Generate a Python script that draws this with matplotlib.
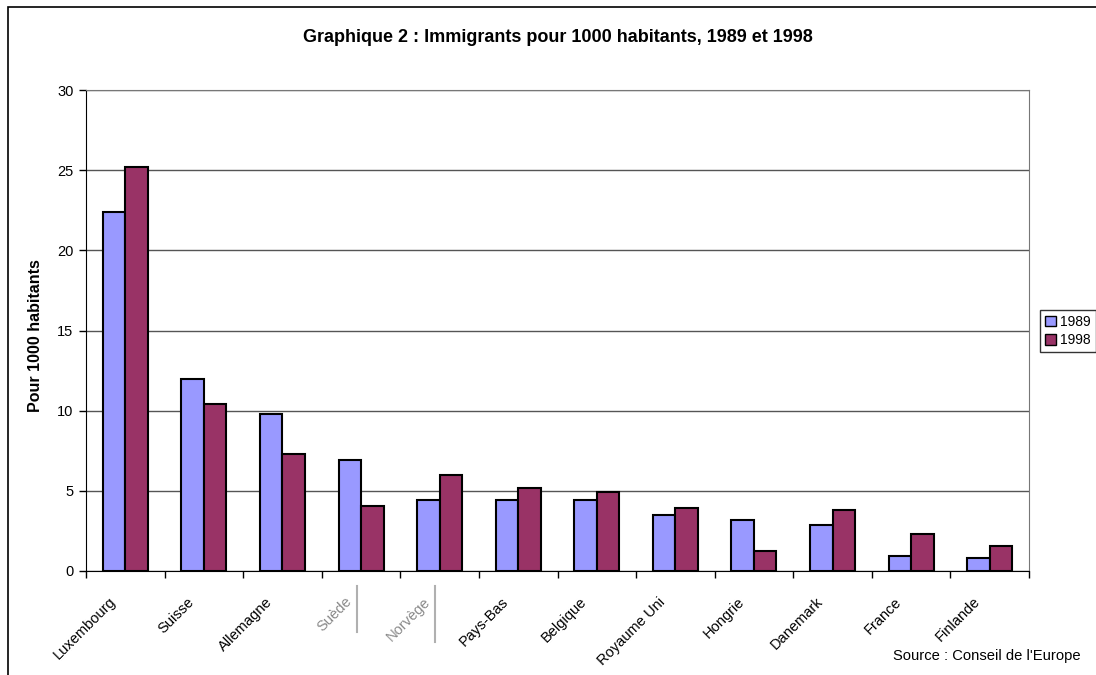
import numpy as np
import matplotlib.pyplot as plt
from matplotlib.patches import Rectangle
from matplotlib.lines import Line2D

plt.rcParams['font.family'] = ['Liberation Sans', 'DejaVu Sans']

# Immigrants pour 1000 habitants
pays = ['Luxembourg', 'Suisse', 'Allemagne', 'Suède', 'Norvège', 'Pays-Bas',
        'Belgique', 'Royaume Uni', 'Hongrie', 'Danemark', 'France', 'Finlande']
val_1989 = [22.4, 12.0, 9.8, 6.9, 4.4, 4.4, 4.4, 3.5, 3.2, 2.85, 0.92, 0.81]
val_1998 = [25.2, 10.4, 7.3, 4.05, 6.0, 5.2, 4.9, 3.92, 1.25, 3.8, 2.32, 1.57]
annees = ['1989', '1998']

col_89 = '#9999FF'
col_98 = '#993366'

fig = plt.figure(figsize=(10.96, 6.75), dpi=100)
ax = fig.add_axes([86 / 1096, 104 / 675, 943 / 1096, 481 / 675])

x = np.arange(len(pays))
w = 0.286
ax.bar(x - w / 2, val_1989, w, color=col_89, edgecolor='black', linewidth=1.5, zorder=3)
ax.bar(x + w / 2, val_1998, w, color=col_98, edgecolor='black', linewidth=1.5, zorder=3)

ax.set_xlim(-0.5, len(pays) - 0.5)
ax.set_ylim(0, 30)
ax.set_yticks(np.arange(0, 31, 5))
ax.yaxis.grid(True, color='#555555', linewidth=1, zorder=0)

# ticks between the categories, labels slightly left of each category centre
lab_shift = 0.215
ax.set_xticks(np.arange(len(pays) + 1) - 0.5)
ax.set_xticklabels([])
ax.set_xticks(x - lab_shift, minor=True)
ax.set_xticklabels(pays, minor=True, rotation=45, ha='right', va='top',
                   rotation_mode='anchor', fontsize=10.5)
ax.tick_params(axis='x', which='minor', length=0, pad=17)
ax.tick_params(axis='x', which='major', length=5, width=1, direction='out')
ax.tick_params(axis='y', length=5, width=1, direction='out', labelsize=10.5, pad=4)

for lab in ax.get_xticklabels(minor=True):
    if lab.get_text() in ('Suède', 'Norvège'):
        lab.set_color('#8a8a8a')

# thin grey marks next to two of the labels
trans = ax.get_xaxis_transform()
for xi, y1 in [(3 - 0.055, -0.127), (4 - 0.055, -0.148)]:
    ax.add_line(Line2D([xi, xi], [-0.031, y1], transform=trans, color='#b0b0b0',
                       linewidth=1.5, clip_on=False))

for side in ['top', 'right']:
    ax.spines[side].set_color('#777777')
ax.spines['left'].set_color('black')
ax.spines['bottom'].set_color('black')

ax.set_ylabel('Pour 1000 habitants', fontsize=11.5, fontweight='bold')
ax.yaxis.set_label_coords(-0.046, 0.489)

fig.text(558 / 1096, 1 - 38 / 675, 'Graphique 2 : Immigrants pour 1000 habitants, 1989 et 1998',
         ha='center', va='center', fontsize=13, fontweight='bold')
fig.text(1081 / 1096, 1 - 656 / 675, "Source : Conseil de l'Europe",
         ha='right', va='center', fontsize=10.6)

handles = [Rectangle((0, 0), 1, 1, facecolor=c, edgecolor='black', linewidth=1)
           for c in (col_89, col_98)]
leg = fig.legend(handles, annees, loc='center left', bbox_to_anchor=(1040 / 1096, 1 - 331 / 675),
                 fontsize=10, frameon=True, fancybox=False, handlelength=0.8,
                 handleheight=0.8, handletextpad=0.3, borderpad=0.35, labelspacing=0.3,
                 borderaxespad=0)
leg.get_frame().set_edgecolor('black')
leg.get_frame().set_linewidth(1)

# outer chart border (only left and top edges fall inside the image)
fig.patches.append(Rectangle((8 / 1096, -0.1), 1.2, 1 - 7 / 675 + 0.1, transform=fig.transFigure,
                             fill=False, edgecolor='black', linewidth=1.2))

fig.savefig('out.png', dpi=100)
